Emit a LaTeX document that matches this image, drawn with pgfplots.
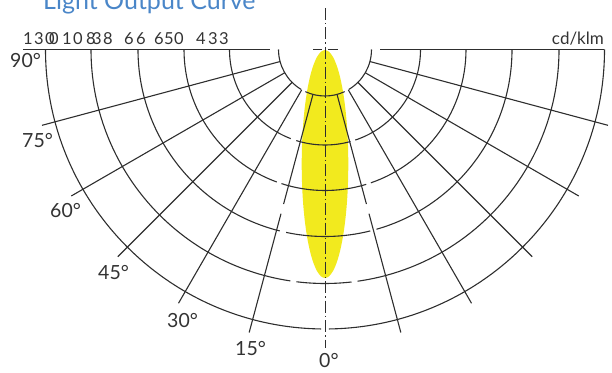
\documentclass[border=0pt]{standalone}
\usepackage{pgfplots}
\pgfplotsset{compat=1.18}
\usetikzlibrary{calc}
\usepackage{fontspec}
\setmainfont{Lato}
\definecolor{gridc}{HTML}{2E2E2E}
\definecolor{beam}{HTML}{F2EA1E}
\definecolor{titlec}{HTML}{4A86C8}
\definecolor{labc}{HTML}{333333}
\begin{document}
\begin{tikzpicture}
\begin{axis}[
  width=612pt, height=372pt, scale only axis,
  xmin=0, xmax=612, ymin=0, ymax=372, y dir=reverse,
  hide axis, clip=false, enlargelimits=false,
]
% beam (light output curve)
\addplot[draw=none, fill=beam, smooth] coordinates {
(325,50) (329.05,51.73) (332.97,56.87) (336.65,65.27) (339.98,76.67)
(342.85,90.72) (345.18,107) (346.90,125.01) (347.95,144.21) (348.3,164)
(347.95,183.79) (346.90,202.99) (345.18,221) (342.85,237.28) (339.98,251.33)
(336.65,262.73) (332.97,271.13) (329.05,276.27) (325,278)
(320.95,276.27) (317.03,271.13) (313.35,262.73) (310.02,251.33) (307.15,237.28)
(304.82,221) (303.10,202.99) (302.05,183.79) (301.7,164) (302.05,144.21)
(303.10,125.01) (304.82,107) (307.15,90.72) (310.02,76.67) (313.35,65.27)
(317.03,56.87) (320.95,51.73) (325,50)
};
\coordinate (C) at (axis cs:325,49.5);
\draw[gridc, line width=1.1pt] (axis cs:23,49.5) -- (axis cs:270,49.5);
\draw[gridc, line width=1.1pt] (axis cs:380,49.5) -- (axis cs:604,49.5);
\draw[gridc, line width=1.1pt] (axis cs:313,49.5) -- (axis cs:322,49.5);
\draw[gridc, line width=1.1pt] (axis cs:328,49.5) -- (axis cs:338,49.5);
\draw[gridc, line width=1pt, dash pattern=on 12pt off 3pt on 1.5pt off 3pt] (axis cs:325,8) -- (axis cs:325,348);
% labels
\node[anchor=base west, text=titlec, font=\fontsize{25}{25}\selectfont, inner sep=0pt] at (axis cs:43,9.5) {Light Output Curve};
\node[anchor=base east, text=labc, font=\fontsize{17}{17}\selectfont, inner sep=0pt] at (axis cs:604,45) {cd/klm};
\begin{scope}[every node/.style={anchor=base west, text=labc, font=\fontsize{19.5}{19.5}\selectfont, inner sep=0pt}]
\node at (axis cs:10,67) {90°};
\node at (axis cs:22,147) {75°};
\node at (axis cs:50,217.5) {60°};
\node at (axis cs:98,279) {45°};
\node at (axis cs:167,327) {30°};
\node at (axis cs:235,355) {15°};
\node at (axis cs:319,367.5) {0°};
\end{scope}
\begin{scope}[every node/.style={anchor=base, text=labc, font=\fontsize{16.5}{16.5}\selectfont, inner sep=0pt}]
\node at (axis cs:28,45) {1};
\node at (axis cs:39,45) {3};
\node at (axis cs:50,45) {0};
\node at (axis cs:54,45) {0};
\node at (axis cs:67,45) {1};
\node at (axis cs:78,45) {0};
\node at (axis cs:91,45) {8};
\node at (axis cs:97,45) {3};
\node at (axis cs:108,45) {8};
\node at (axis cs:129,45) {6};
\node at (axis cs:141,45) {6};
\node at (axis cs:159,45) {6};
\node at (axis cs:169,45) {5};
\node at (axis cs:179,45) {0};
\node at (axis cs:201,45) {4};
\node at (axis cs:213,45) {3};
\node at (axis cs:224,45) {3};
\end{scope}
\end{axis}
\begin{scope}[gridc, line width=1.1pt]
\foreach \a in {195,210,225,240,300,315,330,345}
  \draw ($(C)+(\a:46.5pt)$) -- ($(C)+(\a:293pt)$);
\foreach \a in {255,285} {
  \draw ($(C)+(\a:46.5pt)$) -- ($(C)+(\a:160pt)$);
  \draw ($(C)+(\a:170pt)$) -- ($(C)+(\a:293pt)$);
}
\foreach \r/\s/\e in {46.5/180/239, 46.5/245/295, 46.5/301/360,
  95.5/180/249, 95.5/252.5/285.5, 95.5/288.5/360,
  141/180/250, 141/252/287, 141/289/360,
  187/180/256, 187/258/284, 187/286/360,
  234/180/261.5, 234/263/276.5, 234/278/360,
  279.5/180/269.2, 279.5/270.8/360}
  \draw ($(C)+(\s:\r pt)$) arc[start angle=\s, end angle=\e, radius=\r pt];
\end{scope}
\pgfresetboundingbox
\path[use as bounding box] (current axis.south west) rectangle (current axis.north east);
\end{tikzpicture}
\end{document}
